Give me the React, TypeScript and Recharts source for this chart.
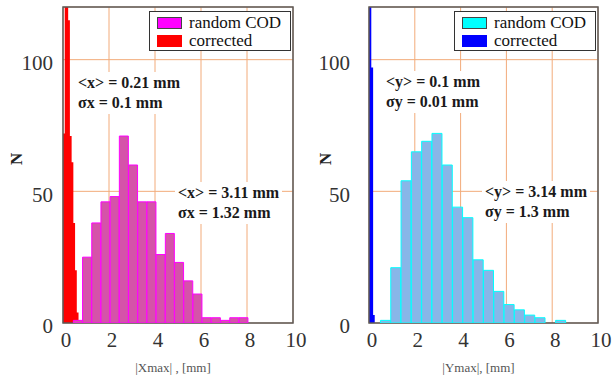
import React from "react";
import { ComposedChart, Bar, Area, XAxis, YAxis, CartesianGrid, ReferenceArea, Legend } from "recharts";

const xTicks = [0, 2, 4, 6, 8, 10];
const yTicks = [0, 50, 100];

// |Xmax|: random COD histogram (bin centres, 0.4 mm bins) and corrected orbit (step edges)
const xCodCentres = [0.65, 1.05, 1.45, 1.85, 2.25, 2.65, 3.05, 3.45, 3.85, 4.25, 4.65, 5.05, 5.45, 5.85, 6.25, 6.65, 7.05, 7.45, 7.85];
const xCodCounts = [1, 25, 38, 46, 48, 71, 60, 46, 46, 26, 34, 23, 16, 11, 2, 2, 1, 2, 2];
const xCorEdges = [0, 0.075, 0.15, 0.225, 0.3, 0.375, 0.45, 0.525, 0.6, 0.675, 0.75];
const xCorCounts = [72, 125, 125, 115, 71, 61, 38, 20, 4, 1, 0];

// |Ymax|: random COD histogram (0.45 mm bins) and corrected orbit
const yCodCentres = [0.725, 1.175, 1.625, 2.075, 2.525, 2.975, 3.425, 3.875, 4.325, 4.775, 5.225, 5.675, 6.125, 6.575, 7.025, 7.475, 7.925, 8.375];
const yCodCounts = [1, 21, 54, 65, 69, 72, 60, 44, 40, 24, 20, 12, 7, 5, 3, 2, 0, 1];
const yCorEdges = [0, 0.1, 0.18, 0.25];
const yCorCounts = [200, 97, 3, 0];

const legendNames = ["random COD", "corrected"];

const serif = "'Liberation Serif', 'DejaVu Serif', serif";

const toRows = (xs: number[], ns: number[]) => xs.map((x, i) => ({ x, n: ns[i] }));

interface PanelProps {
  left: number;
  width: number;
  marginRight: number;
  tickMargin: number;
  labelOffset: number;
  xLabel: string;
  cod: { x: number; n: number }[];
  cor: { x: number; n: number }[];
  codFill: string;
  codStroke: string;
  codSwatch: string;
  corColor: string;
  legendLeft: number;
  notes: { left: number; top: number; lines: string[] }[];
}

const Panel = (p: PanelProps) => {
  const swatches = [p.codSwatch, p.corColor];
  return (
    <div style={{ position: "absolute", left: p.left, top: 0, width: p.width, height: 378 }}>
      <ComposedChart
        width={p.width}
        height={378}
        data={p.cod}
        margin={{ top: 7, right: p.marginRight, bottom: 0, left: 0 }}
        barCategoryGap={0}
        barGap={0}
      >
        <CartesianGrid stroke="#f2ab7a" strokeWidth={1} />
        <XAxis
          type="number"
          dataKey="x"
          domain={[0, 10]}
          ticks={xTicks}
          interval={0}
          allowDataOverflow
          axisLine={false}
          tickLine={false}
          tickSize={0}
          tickMargin={9}
          height={55}
          tick={{ fill: "#333", fontSize: 21, fontFamily: serif, dx: 3 }}
          label={{ value: p.xLabel, position: "insideBottom", offset: 6, dx: -5, fill: "#555", fontSize: 13, fontFamily: serif }}
        />
        <XAxis xAxisId="c" type="number" dataKey="x" domain={[0, 10]} allowDataOverflow hide />
        <YAxis
          type="number"
          domain={[0, 120]}
          ticks={yTicks}
          interval={0}
          allowDataOverflow
          width={63}
          axisLine={false}
          tickLine={false}
          tickSize={0}
          tickMargin={p.tickMargin}
          tick={{ fill: "#333", fontSize: 21, fontFamily: serif, dy: 3 }}
          label={{ value: "N", angle: -90, position: "insideLeft", offset: p.labelOffset, fill: "#222", fontSize: 17, fontWeight: "bold", fontFamily: serif }}
        />
        <Bar dataKey="n" fill={p.codFill} stroke={p.codStroke} strokeWidth={1} isAnimationActive={false} />
        <Area
          xAxisId="c"
          data={p.cor}
          dataKey="n"
          type="stepAfter"
          fill={p.corColor}
          fillOpacity={1}
          stroke="none"
          isAnimationActive={false}
        />
        <ReferenceArea x1={0} x2={10} y1={0} y2={120} fill="none" stroke="#5a5a5a" strokeWidth={1.5} />
        <Legend
          layout="horizontal"
          verticalAlign="middle"
          align="center"
          wrapperStyle={{ top: 11, left: p.legendLeft, width: 142, height: 40 }}
          content={() => (
            <div
              style={{
                boxSizing: "border-box",
                width: 142,
                height: 40,
                border: "1.5px solid #333",
                background: "#fff",
                position: "relative",
                fontFamily: serif,
                fontSize: 17,
                color: "#111",
              }}
            >
              {legendNames.map((name, i) => (
                <div key={name} style={{ position: "absolute", left: 7, top: 2 + i * 18, height: 17, display: "flex", alignItems: "center" }}>
                  <span
                    style={{
                      display: "inline-block",
                      width: 25,
                      height: 12,
                      background: swatches[i],
                      boxSizing: "border-box",
                      border: i === 0 ? "1px solid #444" : "none",
                      marginRight: 7,
                    }}
                  />
                  <span style={{ lineHeight: "17px" }}>{name}</span>
                </div>
              ))}
            </div>
          )}
        />
      </ComposedChart>
      {p.notes.map((n, i) => (
        <div
          key={i}
          style={{
            position: "absolute",
            left: n.left,
            top: n.top,
            padding: "1px 3px",
            background: "#fff",
            fontFamily: serif,
            fontWeight: "bold",
            fontSize: 16,
            lineHeight: "20px",
            color: "#1a1a1a",
            whiteSpace: "nowrap",
          }}
        >
          {n.lines.map((l) => (
            <div key={l}>{l}</div>
          ))}
        </div>
      ))}
    </div>
  );
};

export default function App() {
  return (
    <div style={{ position: "absolute", left: 0, top: 0, width: 613, height: 378, background: "#fff", overflow: "hidden" }}>
      <Panel
        left={0}
        width={312}
        marginRight={19}
        tickMargin={10}
        labelOffset={16}
        xLabel="|Xmax| , [mm]"
        cod={toRows(xCodCentres, xCodCounts)}
        cor={toRows(xCorEdges, xCorCounts)}
        codFill="#d553a9"
        codStroke="#ff00ff"
        codSwatch="#ff00ff"
        corColor="#ff0000"
        legendLeft={149}
        notes={[
          { left: 75, top: 72, lines: ["<x> = 0.21 mm", "σx = 0.1 mm"] },
          { left: 175, top: 182, lines: ["<x> = 3.11 mm", "σx = 1.32 mm"] },
        ]}
      />
      <Panel
        left={306}
        width={307}
        marginRight={15}
        tickMargin={19}
        labelOffset={19}
        xLabel="|Ymax|, [mm]"
        cod={toRows(yCodCentres, yCodCounts)}
        cor={toRows(yCorEdges, yCorCounts)}
        codFill="#88b6e8"
        codStroke="#00ffff"
        codSwatch="#00ffff"
        corColor="#0000ff"
        legendLeft={148}
        notes={[
          { left: 77, top: 71, lines: ["<y> = 0.1 mm", "σy = 0.01 mm"] },
          { left: 176, top: 181, lines: ["<y> = 3.14 mm", "σy = 1.3 mm"] },
        ]}
      />
    </div>
  );
}
